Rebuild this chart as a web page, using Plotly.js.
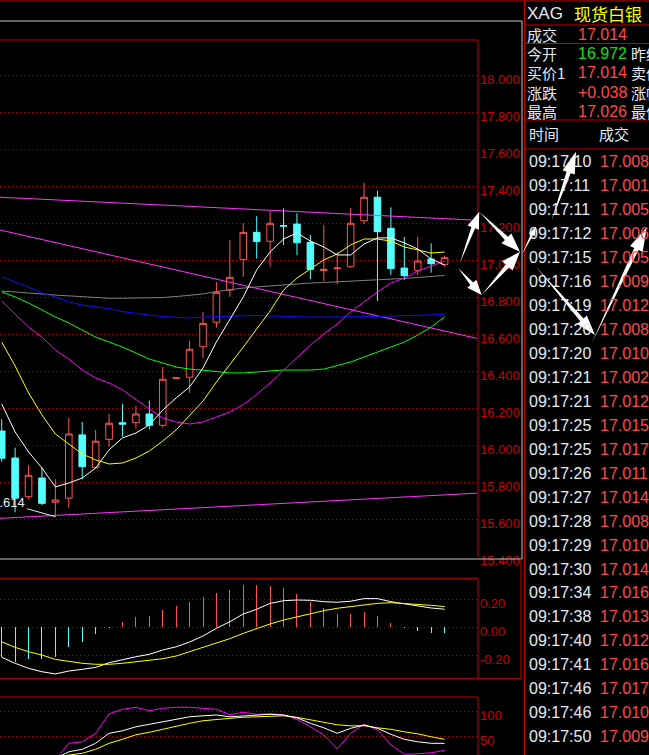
<!DOCTYPE html>
<html>
<head>
<meta charset="utf-8">
<script src="https://cdn.plot.ly/plotly-3.0.1.min.js"></script>
<style>
html,body{margin:0;padding:0;background:#000;}
#chart{width:649px;height:755px;}
</style>
</head>
<body>
<div id="chart"></div>
<script>
// ---------------- DATA ----------------
const openP  = [16.077,15.931,15.722,15.823,15.692,15.714,16.056,15.879,16.032,16.122,16.122,16.169,16.108,16.362,16.368,16.533,16.665,16.839,17.005,17.151,17.103,17.187,17.196,17.097,16.944,16.955,16.965,17.214,17.341,17.173,16.958,16.946,17.007,16.978];
const highP  = [16.141,15.987,15.892,15.881,15.816,16.148,16.126,16.083,16.169,16.224,16.212,16.241,16.423,16.367,16.564,16.721,16.881,17.110,17.200,17.239,17.268,17.281,17.254,17.137,17.191,17.043,17.284,17.418,17.375,17.286,17.126,17.126,17.092,17.026];
const lowP   = [15.911,15.638,15.708,15.676,15.614,15.663,15.816,15.872,15.992,16.047,16.090,16.086,16.095,16.355,16.284,16.470,16.636,16.803,16.911,17.009,16.965,17.083,17.027,16.899,16.888,16.870,16.960,17.195,16.780,16.921,16.894,16.919,16.933,16.965];
const closeP = [15.930,15.714,15.838,15.686,15.704,16.061,15.884,16.022,16.119,16.114,16.169,16.108,16.357,16.365,16.519,16.659,16.827,16.908,17.151,17.101,17.200,17.185,17.095,16.951,16.951,16.958,17.200,17.341,17.155,16.955,16.917,16.996,16.982,17.014];

const maWhite  = [16.223,16.072,15.964,15.877,15.775,15.796,15.823,15.877,15.975,16.040,16.066,16.110,16.190,16.256,16.315,16.418,16.559,16.677,16.802,16.948,17.045,17.115,17.148,17.104,17.072,17.029,17.029,17.088,17.121,17.121,17.094,17.061,17.007,16.975];
const maYellow = [16.558,16.429,16.283,16.164,16.061,16.007,15.953,15.921,15.899,15.904,15.931,15.969,16.023,16.083,16.164,16.239,16.342,16.434,16.531,16.629,16.726,16.839,16.904,16.953,17.002,17.034,17.083,17.115,17.115,17.104,17.072,17.056,17.039,17.045];
const maMagenta= [16.780,16.710,16.639,16.585,16.515,16.466,16.407,16.364,16.337,16.299,16.245,16.196,16.148,16.126,16.115,16.126,16.153,16.180,16.220,16.275,16.337,16.407,16.477,16.542,16.602,16.656,16.721,16.775,16.829,16.877,16.904,16.942,16.969,16.996];
const maGreen  = [16.829,16.802,16.769,16.731,16.694,16.661,16.623,16.585,16.558,16.531,16.499,16.466,16.445,16.423,16.412,16.407,16.399,16.391,16.391,16.396,16.402,16.407,16.407,16.407,16.412,16.429,16.450,16.477,16.504,16.531,16.558,16.596,16.639,16.694];
const maBlue   = [16.910,16.883,16.856,16.823,16.802,16.775,16.758,16.748,16.739,16.723,16.712,16.704,16.696,16.691,16.688,16.693,16.696,16.699,16.699,16.702,16.699,16.696,16.693,16.693,16.693,16.693,16.696,16.696,16.696,16.699,16.702,16.704,16.707,16.707];
const maGray   = [16.834,16.830,16.823,16.818,16.812,16.807,16.802,16.796,16.795,16.795,16.795,16.796,16.799,16.804,16.810,16.818,16.831,16.842,16.850,16.856,16.861,16.869,16.875,16.877,16.880,16.883,16.888,16.891,16.894,16.899,16.902,16.907,16.912,16.918];

// hand-drawn trend lines (two end points each, in bar-index units)
const trendUpperX = [-0.13, 35.0],  trendUpperY = [17.341, 17.218];
const trendMidX   = [-0.13, 35.4],  trendMidY   = [17.164, 16.578];
const trendLowX   = [-0.13, 35.4],  trendLowY   = [15.605, 15.741];

const macdBar = [-0.210,-0.245,-0.229,-0.229,-0.210,-0.139,-0.103,-0.048,-0.005,0.038,0.074,0.081,0.124,0.152,0.181,0.216,0.245,0.266,0.302,0.302,0.295,0.281,0.238,0.181,0.138,0.095,0.095,0.109,0.081,0.031,-0.004,-0.024,-0.038,-0.043];
const macdDif = [-0.214,-0.257,-0.293,-0.317,-0.333,-0.312,-0.300,-0.286,-0.253,-0.229,-0.210,-0.193,-0.162,-0.139,-0.105,-0.062,-0.007,0.040,0.095,0.129,0.171,0.190,0.195,0.193,0.183,0.179,0.186,0.205,0.205,0.183,0.167,0.155,0.138,0.129];
const macdDea = [-0.103,-0.143,-0.174,-0.198,-0.229,-0.245,-0.257,-0.264,-0.264,-0.257,-0.245,-0.238,-0.224,-0.205,-0.174,-0.143,-0.110,-0.081,-0.043,-0.007,0.024,0.052,0.076,0.095,0.119,0.136,0.148,0.164,0.171,0.176,0.171,0.164,0.157,0.148];

const kdjK = [6,5,6,8,6,19,24,36,56,61,69,74,79,84,89,91,92.6,89,90.6,91.2,94,92.6,87,76,67,56,66,72.6,66,54,44,39,36,36];
const kdjD = [11,10,9,9,9,11.8,16,24,36,44,53,58,64,71,76,81,84,86,88,89,90.6,91,88,83,78,73,71,71,67,64,59,55,49,44];
const kdjJ = [-4,-5,0,6,3,36,39,56,95,104,108,101,106,108,108,106,104,93,98,94,95,93,84,69,53,25,56,74,63,33,14,15,17,22];

const mainTicks = [15.4,15.6,15.8,16.0,16.2,16.4,16.6,16.8,17.0,17.2,17.4,17.6,17.8,18.0];
const macdTicks = [-0.2,0,0.2], macdTickText = ['-0.20','0.00','0.20'];
const kdjTicks = [50,100];

const quoteLabels = ['成交','今开','买价1','涨跌','最高'];
const quoteValues = ['17.014','16.972','17.014','+0.038','17.026'];
const quoteValueColors = ['#ff4848','#10e010','#ff4848','#ff4848','#ff4848'];
const quoteRight  = ['','昨结','卖价1','涨幅','最低'];

const tickTimes  = ['09:17:10','09:17:11','09:17:11','09:17:12','09:17:15','09:17:16','09:17:19','09:17:20','09:17:20','09:17:21','09:17:21','09:17:25','09:17:25','09:17:26','09:17:27','09:17:28','09:17:29','09:17:30','09:17:34','09:17:38','09:17:40','09:17:41','09:17:46','09:17:46','09:17:50'];
const tickPrices = ['17.008','17.001','17.005','17.006','17.005','17.009','17.012','17.008','17.010','17.002','17.012','17.015','17.017','17.011','17.014','17.008','17.010','17.014','17.016','17.013','17.012','17.016','17.017','17.010','17.009'];

// ---------------- LAYOUT HELPERS ----------------
const W = 649, H = 755, PL = 0, PR = 478, PT = 40, PB = 755;
const px = x => (x - PL) / (PR - PL);
const py = y => (PB - y) / (PB - PT);
const idx = openP.map((_, i) => i);

const RED_TXT = '#c80000', GRID = '#a80000', BOX = '#c80000';
const UP = '#ff5454', DN = '#54ffff';
const FONT = 'Liberation Sans, Arial, Noto Sans CJK SC, sans-serif';
const CJK = 'Noto Sans CJK SC, Liberation Sans, sans-serif';

function line(x, y, color, yaxis, width) {
  return {type:'scatter', mode:'lines', x:x, y:y, yaxis:yaxis || 'y',
          line:{color:color, width:width || 1}, hoverinfo:'skip'};
}

const traces = [
  {type:'candlestick', x:idx, open:openP, high:highP, low:lowP, close:closeP,
   increasing:{line:{color:UP, width:1}, fillcolor:'#000000'},
   decreasing:{line:{color:DN, width:1}, fillcolor:DN},
   whiskerwidth:0, hoverinfo:'skip'},
  line(trendUpperX, trendUpperY, '#ff33ff'),
  line(trendMidX, trendMidY, '#ff33ff'),
  line(trendLowX, trendLowY, '#ff33ff'),
  line(idx, maGray, '#808080'),
  line(idx, maBlue, '#1010ff'),
  line(idx, maGreen, '#00ff00'),
  line(idx, maMagenta, '#ff00ff'),
  line(idx, maYellow, '#ffff00'),
  line(idx, maWhite, '#ffffff'),
  {type:'bar', x:idx, y:macdBar, yaxis:'y2', width:0.075,
   marker:{color:macdBar.map(v => v >= 0 ? UP : DN), line:{width:0}}, hoverinfo:'skip'},
  line(idx, macdDif, '#ffffff', 'y2'),
  line(idx, macdDea, '#ffff00', 'y2'),
  line(idx, kdjJ, '#ff00ff', 'y3'),
  line(idx, kdjD, '#ffff00', 'y3'),
  line(idx, kdjK, '#ffffff', 'y3')
];

function hseg(x0, x1, y, color) {
  return {type:'line', xref:'paper', yref:'paper', x0:px(x0), x1:px(x1), y0:py(y), y1:py(y),
          line:{color:color, width:1}, layer:'above'};
}
function vseg(x, y0, y1, color) {
  return {type:'line', xref:'paper', yref:'paper', x0:px(x), x1:px(x), y0:py(y0), y1:py(y1),
          line:{color:color, width:1}, layer:'above'};
}
function arrowPath(x1, y1, x2, y2, hl, hw, sw) {
  const dx = x2 - x1, dy = y2 - y1, len = Math.hypot(dx, dy);
  const ux = dx / len, uy = dy / len, nx = -uy, ny = ux;
  const hx = x2 - ux * hl, hy = y2 - uy * hl;
  const pts = [[x1, y1], [hx + nx * sw, hy + ny * sw], [hx + nx * hw, hy + ny * hw], [x2, y2],
               [hx - nx * hw, hy - ny * hw], [hx - nx * sw, hy - ny * sw]];
  return 'M' + pts.map(p => px(p[0]).toFixed(5) + ',' + py(p[1]).toFixed(5)).join('L') + 'Z';
}
const arrowDefs = [
  [460,262.7,479.3,211.7,17,6,2],
  [479.3,211.7,520,251.7,19,7,2.2],
  [458.3,268.3,481.7,295,15,6,2],
  [481.7,295,520,251.7,19,7,2.2],
  [521.7,255,536,226.7,9,3.5,1.2],
  [551.7,220,576,151.7,22,6.5,2.2],
  [536,266.7,595,335,20,6.5,2.2],
  [591.7,343.3,646.7,227.3,24,7,2.4]
];

const shapes = [
  hseg(0, W, 1, BOX),
  hseg(0, 522, 21, '#c8c8c8'),
  vseg(522, 21, 559, '#c8c8c8'),
  hseg(0, 522, 559, '#c8c8c8'),
  hseg(0, 478, 40, BOX), vseg(478, 40, 557, BOX),
  hseg(0, 478, 578.3, BOX), vseg(478, 578.3, 678.3, BOX), hseg(0, 522, 678.3, BOX),
  vseg(521, 559, 678.3, BOX),
  hseg(0, 478, 697, BOX), vseg(478, 697, 755, BOX),
  vseg(524.5, 0, 755, BOX),
  hseg(524.5, W, 25, BOX), hseg(524.5, W, 43.5, BOX),
  hseg(524.5, W, 120, BOX), hseg(524.5, W, 149, BOX)
];
arrowDefs.forEach(a => shapes.push({type:'path', xref:'paper', yref:'paper', layer:'above',
  path: arrowPath(...a), fillcolor:'#ffffff', line:{width:0}}));

function txt(x, y, text, color, size, family) {
  return {xref:'paper', yref:'paper', x:px(x), y:py(y), text:text, showarrow:false,
          xanchor:'left', yanchor:'middle', font:{color:color, size:size, family:family || FONT}};
}
const LBL = '#e4eaf4';
const annotations = [
  txt(525, 13.5, 'XAG', LBL, 17),
  txt(572, 13.5, '现货白银', '#ffff00', 17, CJK)
];
const quoteY = [34.5, 54, 73, 92, 111.5];
quoteLabels.forEach((l, k) => {
  annotations.push(txt(525, quoteY[k], l, LBL, 15, CJK));
  annotations.push(txt(576, quoteY[k], quoteValues[k], quoteValueColors[k], 16));
  if (quoteRight[k]) annotations.push(txt(629, quoteY[k], quoteRight[k], LBL, 15, CJK));
});
annotations.push(txt(527, 134, '时间', LBL, 15, CJK));
annotations.push(txt(597, 134, '成交', LBL, 15, CJK));
tickTimes.forEach((t, k) => {
  const y = 161.7 + 23.96 * k;
  annotations.push(txt(527, y, t, LBL, 16));
  annotations.push(txt(598, y, tickPrices[k], '#ff4848', 16));
});
// lowest-price marker
const minLow = Math.min(...lowP), minIdx = lowP.indexOf(minLow);
annotations.push({x:minIdx, y:minLow, xref:'x', yref:'y', text:minLow.toFixed(3),
  showarrow:true, arrowhead:0, arrowwidth:1, arrowcolor:'#e8e8e8', ax:-50, ay:-14,
  font:{color:'#e0e8f4', size:13, family:FONT}});

function yax(domain, range, tickvals, ticktext) {
  const a = {domain:domain, range:range, side:'right', anchor:'x', tickvals:tickvals,
    showgrid:true, gridcolor:GRID, gridwidth:1, griddash:'1px,3px', zeroline:false,
    showline:false, ticks:'', ticklabelshift:4, ticklabelstandoff:1,
    tickfont:{color:RED_TXT, size:13, family:FONT}, fixedrange:true};
  if (ticktext) a.ticktext = ticktext;
  return a;
}
const yMain = yax([py(557), 1], [15.396, 18.191], mainTicks, mainTicks.map(v => v.toFixed(3)));

const layout = {
  width:W, height:H, margin:{l:PL, r:W - PR, t:PT, b:H - PB, pad:0},
  paper_bgcolor:'#000000', plot_bgcolor:'#000000', showlegend:false,
  font:{family:FONT},
  xaxis:{range:[-0.127, 35.49], visible:false, rangeslider:{visible:false}, fixedrange:true},
  yaxis: yMain,
  yaxis2: yax([py(678.3), py(578.3)], [-0.364, 0.35], macdTicks, macdTickText),
  yaxis3: yax([0, py(697)], [12.6, 128.6], kdjTicks, kdjTicks.map(String)),
  shapes:shapes, annotations:annotations, bargap:0
};

Plotly.newPlot('chart', traces, layout, {staticPlot:true, displayModeBar:false});
</script>
</body>
</html>
